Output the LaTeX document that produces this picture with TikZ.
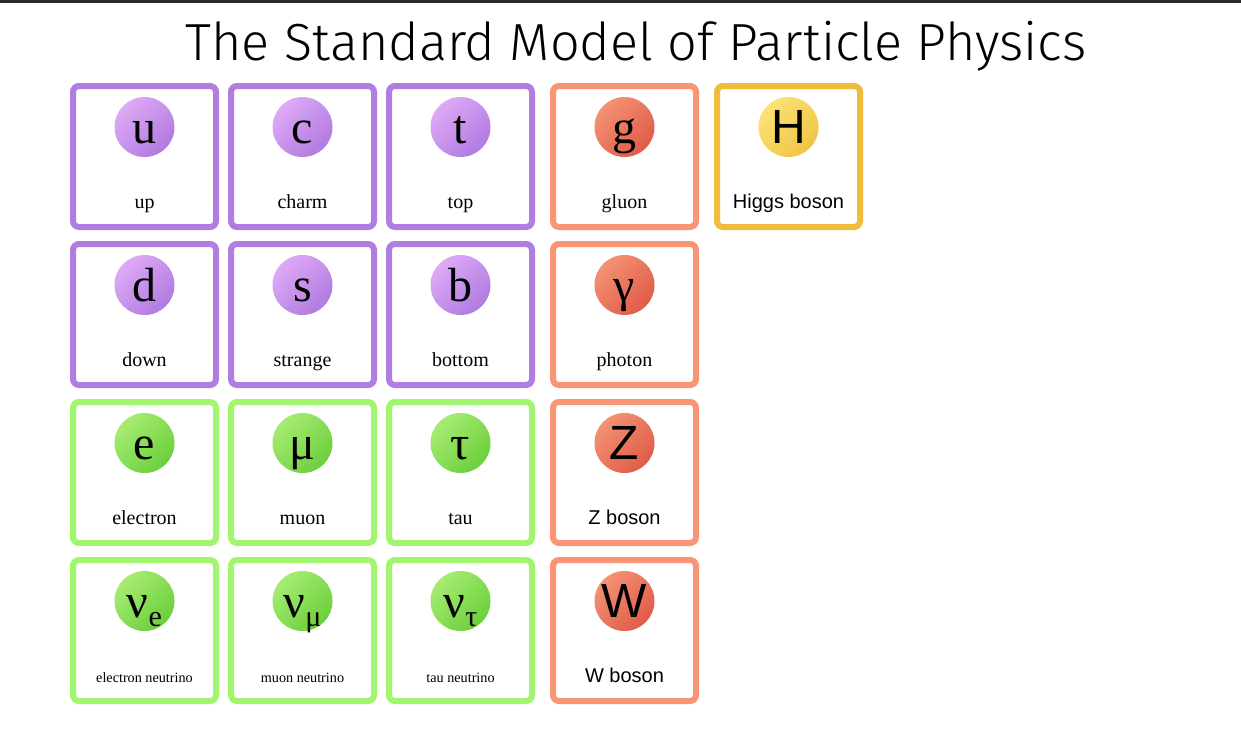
\documentclass[tikz,border=0pt]{standalone}
\usepackage{fontspec}
\setmainfont{Liberation Serif}
\newfontfamily\sansf{Liberation Sans}
\newfontfamily\titlef{Fira Sans Light}
\begin{document}
\begin{tikzpicture}[x=1pt,y=-1pt]
\definecolor{qb}{HTML}{B07EE0}\definecolor{qa}{HTML}{DEAAF6}\definecolor{qc}{HTML}{B07AE0}
\definecolor{lb}{HTML}{A2F56E}\definecolor{la}{HTML}{A6EC72}\definecolor{lc}{HTML}{6CCF3C}
\definecolor{bb}{HTML}{F99574}\definecolor{ba}{HTML}{F39272}\definecolor{bc}{HTML}{E05C48}
\definecolor{hb}{HTML}{F0BC3C}\definecolor{ha}{HTML}{FCE276}\definecolor{hc}{HTML}{F0C444}
\definecolor{topbar}{HTML}{2B2B2B}
\tikzset{
  card/.style={draw=#1, line width=6pt, rounded corners=6pt, minimum width=143pt, minimum height=141pt, inner sep=0pt, fill=white},
  ball/.style 2 args={circle, minimum size=60pt, inner sep=0pt, top color=#1, bottom color=#2, shading angle=45},
  sym/.style={anchor=base, inner sep=0pt, font=\fontsize{48}{48}\selectfont},
  ssym/.style={anchor=base, inner sep=0pt, font=\sansf\fontsize{48}{48}\selectfont},
}
\useasboundingbox (0,0) rectangle (1241,728);
\fill[white] (0,0) rectangle (1241,728);
\fill[topbar] (0,0) rectangle (1241,3);
\node[font=\titlef\fontsize{52.2}{52}\selectfont, anchor=base] (title) at (636,60) {The Standard Model of Particle Physics};
\newcommand{\particle}[9]{%
  \node[card=#4] (#1) at (#2,#3) {};
  \node[ball={#5}{#6}] (#1b) at (#2,#3-29.5) {};
  \node[#7] (#1s) at (#2,#3-13.5) {#8};
  \node[anchor=base] (#1l) at (#2,#3+51.5) {#9};
}
\newcommand{\serlab}{\fontsize{20}{20}\selectfont}
\newcommand{\sanlab}{\sansf\fontsize{20}{20}\selectfont}
\newcommand{\neulab}{\fontsize{14.2}{14}\selectfont}
\newcommand{\neusym}[1]{ν\raisebox{-0.2em}{\fontsize{30}{30}\selectfont #1}}
\particle{u}{144.5}{156.5}{qb}{qa}{qc}{sym}{u}{\serlab up}
\particle{c}{302.5}{156.5}{qb}{qa}{qc}{sym}{c}{\serlab charm}
\particle{t}{460.5}{156.5}{qb}{qa}{qc}{sym}{t}{\serlab top}
\particle{g}{624.5}{156.5}{bb}{ba}{bc}{sym}{g}{\serlab gluon}
\particle{H}{788.5}{156.5}{hb}{ha}{hc}{ssym}{H}{\sanlab Higgs boson}
\particle{d}{144.5}{314.5}{qb}{qa}{qc}{sym}{d}{\serlab down}
\particle{s}{302.5}{314.5}{qb}{qa}{qc}{sym}{s}{\serlab strange}
\particle{b}{460.5}{314.5}{qb}{qa}{qc}{sym}{b}{\serlab bottom}
\particle{ph}{624.5}{314.5}{bb}{ba}{bc}{sym}{γ}{\serlab photon}
\particle{e}{144.5}{472.5}{lb}{la}{lc}{sym}{e}{\serlab electron}
\particle{mu}{302.5}{472.5}{lb}{la}{lc}{sym}{μ}{\serlab muon}
\particle{ta}{460.5}{472.5}{lb}{la}{lc}{sym}{τ}{\serlab tau}
\particle{Z}{624.5}{472.5}{bb}{ba}{bc}{ssym}{Z}{\sanlab Z boson}
\particle{ne}{144.5}{630.5}{lb}{la}{lc}{sym}{\neusym{e}}{\neulab electron neutrino}
\particle{nm}{302.5}{630.5}{lb}{la}{lc}{sym}{\neusym{μ}}{\neulab muon neutrino}
\particle{nt}{460.5}{630.5}{lb}{la}{lc}{sym}{\neusym{τ}}{\neulab tau neutrino}
\particle{W}{624.5}{630.5}{bb}{ba}{bc}{ssym}{W}{\sanlab W boson}
\end{tikzpicture}
\end{document}
